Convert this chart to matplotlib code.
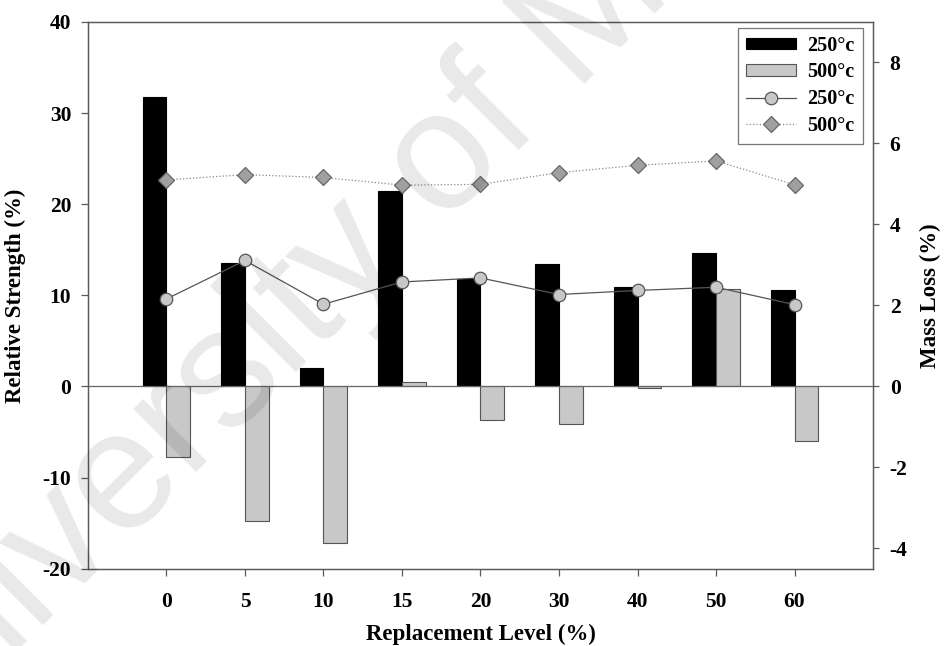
import matplotlib
matplotlib.use("Agg")
import matplotlib.pyplot as plt
import numpy as np

categories = ["0", "5", "10", "15", "20", "30", "40", "50", "60"]
strength_250 = [31.8, 13.6, 2.0, 21.5, 11.8, 13.4, 10.9, 14.6, 10.6]
strength_500 = [-7.7, -14.8, -17.2, 0.5, -3.7, -4.1, -0.2, 10.7, -6.0]
massloss_250 = [2.16, 3.11, 2.03, 2.58, 2.68, 2.27, 2.37, 2.45, 2.02]
massloss_500 = [5.10, 5.23, 5.16, 4.97, 4.99, 5.28, 5.46, 5.57, 4.98]
left_ticks = [-20, -10, 0, 10, 20, 30, 40]
right_ticks = [-4, -2, 0, 2, 4, 6, 8]

plt.rcParams['font.family'] = ['Liberation Serif', 'DejaVu Serif']
plt.rcParams['font.weight'] = 'bold'
plt.rcParams['axes.unicode_minus'] = False

fig = plt.figure(figsize=(9.44, 6.46), dpi=100)
ax = fig.add_axes([0.0932, 0.1197, 0.8316, 0.8463])
ax2 = ax.twinx()

spine_col = '#5a5a5a'
x = np.arange(len(categories))
w = 0.3
ax.bar(x - w/2, strength_250, width=w, color='black', edgecolor='black', linewidth=0.8, label='250°c', zorder=2)
ax.bar(x + w/2, strength_500, width=w, color='#c8c8c8', edgecolor='#555555', linewidth=0.8, label='500°c', zorder=2)
ax.axhline(0, color='#666666', linewidth=0.9, zorder=3)

ax2.plot(x, massloss_250, '-', color='#555555', linewidth=0.9, marker='o', markersize=9,
         markerfacecolor='#c8c8c8', markeredgecolor='#555555', markeredgewidth=0.9, label='250°c', zorder=4)
ax2.plot(x, massloss_500, ':', color='#888888', linewidth=0.9, marker='D', markersize=8,
         markerfacecolor='#a0a0a0', markeredgecolor='#666666', markeredgewidth=0.9, label='500°c', zorder=4)

ax.set_xlim(-1, 9)
ax.set_ylim(-20, 40)
ax2.set_ylim(-4.5, 9.0)
ax.set_xticks(x)
ax.set_xticklabels(categories)
ax.set_yticks(left_ticks)
ax2.set_yticks(right_ticks)

fs = 15.5
for a in (ax, ax2):
    for s in a.spines.values():
        s.set_color(spine_col)
        s.set_linewidth(0.9)
    a.tick_params(direction='out', length=5, width=0.9, color=spine_col, labelsize=fs)
ax.tick_params(axis='x', pad=12)
ax.tick_params(axis='y', pad=7)
ax2.tick_params(axis='y', length=4, pad=8)

lfs = 16.5
ax.set_xlabel('Replacement Level (%)', fontsize=lfs, fontweight='bold', labelpad=8)
ax.set_ylabel('Relative Strength (%)', fontsize=lfs, fontweight='bold', labelpad=12)
ax2.set_ylabel('Mass Loss (%)', fontsize=lfs, fontweight='bold', labelpad=9)

h1, l1 = ax.get_legend_handles_labels()
h2, l2 = ax2.get_legend_handles_labels()
leg = ax2.legend(h1 + h2, l1 + l2, loc='upper right', bbox_to_anchor=(0.9869, 0.9896),
                 fontsize=14.5, frameon=True, fancybox=False, edgecolor='#555555',
                 handlelength=2.45, handleheight=0.5, labelspacing=0.33, borderpad=0.4,
                 handletextpad=0.58, borderaxespad=0.0)
leg.get_frame().set_linewidth(0.9)
ax2.set_zorder(ax.get_zorder() + 1)
ax.patch.set_visible(True)
ax2.patch.set_visible(False)

fig.text(-118/944, 1 - 786/646, 'University of Malaya', fontsize=122, family='Liberation Sans',
         fontweight='normal', color='black', alpha=0.09, rotation=45,
         rotation_mode='anchor', ha='left', va='baseline', zorder=10)

fig.savefig('out.png', dpi=100)
